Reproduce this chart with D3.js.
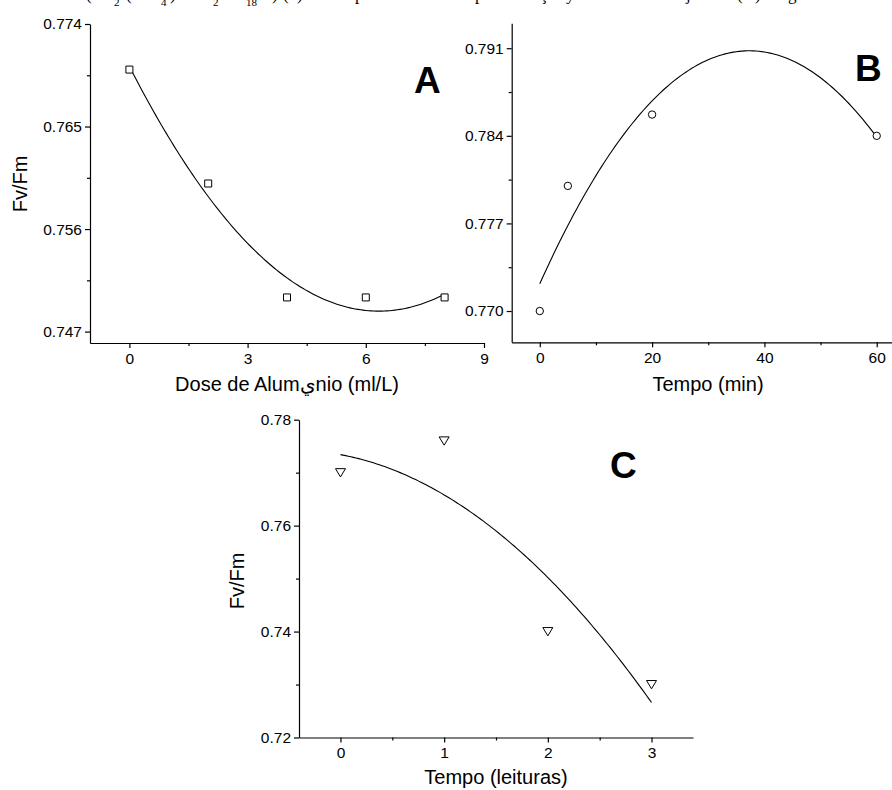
<!DOCTYPE html>
<html>
<head>
<meta charset="utf-8">
<script src="https://cdn.jsdelivr.net/npm/d3@7"></script>
<style>
  body { margin: 0; background: #fff; }
  svg { display: block; }
  text { font-family: "Liberation Sans", Arial, sans-serif; fill: #000; }
</style>
</head>
<body>
<div id="chart"></div>
<script>
// Panel A - Fv/Fm vs aluminium dose
const doseX = [0, 2, 4, 6, 8];
const doseFvFm = [0.770, 0.760, 0.750, 0.750, 0.750];
// Panel B - Fv/Fm vs time (min)
const minX = [0, 5, 20, 60];
const minFvFm = [0.770, 0.780, 0.7857, 0.784];
// Panel C - Fv/Fm vs time (readings)
const readX = [0, 1, 2, 3];
const readFvFm = [0.770, 0.776, 0.740, 0.730];

// tick values
const ticksAx = [0, 3, 6, 9], minorAx = [1.5, 4.5, 7.5];
const ticksAy = [0.747, 0.756, 0.765, 0.774], minorAy = [0.7515, 0.7605, 0.7695];
const ticksBx = [0, 20, 40, 60], minorBx = [10, 30, 50];
const ticksBy = [0.770, 0.777, 0.784, 0.791], minorBy = [0.7735, 0.7805, 0.7875];
const ticksCx = [0, 1, 2, 3], minorCx = [0.5, 1.5, 2.5];
const ticksCy = [0.72, 0.74, 0.76, 0.78], minorCy = [0.73, 0.75, 0.77];

const width = 892, height = 790;

const svg = d3.select("#chart")
  .append("svg")
  .attr("width", width)
  .attr("height", height);

// least squares quadratic y = a + b x + c x^2
function quadFit(xs, ys) {
  const S = k => d3.sum(xs, x => x ** k);
  const T = k => d3.sum(xs, (x, i) => x ** k * ys[i]);
  const m = [
    [S(0), S(1), S(2), T(0)],
    [S(1), S(2), S(3), T(1)],
    [S(2), S(3), S(4), T(2)]
  ];
  for (let i = 0; i < 3; i++) {
    for (let j = i + 1; j < 3; j++) {
      const f = m[j][i] / m[i][i];
      for (let k = i; k < 4; k++) m[j][k] -= f * m[i][k];
    }
  }
  const c = [0, 0, 0];
  for (let i = 2; i >= 0; i--) {
    let s = m[i][3];
    for (let k = i + 1; k < 3; k++) s -= m[i][k] * c[k];
    c[i] = s / m[i][i];
  }
  return x => c[0] + c[1] * x + c[2] * x * x;
}

function drawPanel(p) {
  const x = d3.scaleLinear().domain(p.xDom).range(p.xRange);
  const y = d3.scaleLinear().domain(p.yDom).range(p.yRange);
  const g = svg.append("g");

  // axes (major + minor)
  g.append("g")
    .attr("transform", `translate(0,${p.yRange[0]})`)
    .call(d3.axisBottom(x).tickValues(p.xMajor).tickSize(5).tickSizeOuter(0).tickPadding(4.5)
      .tickFormat(d3.format("d")));
  g.append("g")
    .attr("transform", `translate(0,${p.yRange[0]})`)
    .call(d3.axisBottom(x).tickValues(p.xMinor).tickSize(3).tickFormat(""))
    .call(a => a.select(".domain").remove());
  g.append("g")
    .attr("transform", `translate(${p.xRange[0]},0)`)
    .call(d3.axisLeft(y).tickValues(p.yMajor).tickSize(5).tickSizeOuter(0).tickPadding(3)
      .tickFormat(d3.format(p.yFmt)));
  g.append("g")
    .attr("transform", `translate(${p.xRange[0]},0)`)
    .call(d3.axisLeft(y).tickValues(p.yMinor).tickSize(3).tickFormat(""))
    .call(a => a.select(".domain").remove());

  g.selectAll(".domain, .tick line").attr("stroke", "#000").attr("stroke-width", 1.2);
  g.selectAll(".tick text").attr("font-size", "15.5px");

  // fitted curve
  const fit = quadFit(p.xs, p.ys);
  const [x0, x1] = d3.extent(p.xs);
  const samples = d3.range(0, 121).map(i => x0 + (x1 - x0) * i / 120);
  g.append("path")
    .datum(samples)
    .attr("fill", "none")
    .attr("stroke", "#000")
    .attr("stroke-width", 1.1)
    .attr("d", d3.line().x(d => x(d)).y(d => y(fit(d))));

  // markers
  const pts = p.xs.map((v, i) => [v, p.ys[i]]);
  const mk = g.selectAll(".pt").data(pts).join("path")
    .attr("class", "pt")
    .attr("transform", d => `translate(${x(d[0])},${y(d[1])})`)
    .attr("fill", "#fff")
    .attr("stroke", "#000")
    .attr("stroke-width", 1);
  if (p.marker === "square") mk.attr("d", "M-3.5,-3.5H3.5V3.5H-3.5Z");
  if (p.marker === "circle") mk.attr("d", d3.symbol(d3.symbolCircle, 43)());
  if (p.marker === "triangle") mk.attr("d", "M-5,-4H5L0,4.3Z");

  // panel letter
  g.append("text")
    .attr("x", p.letterPos[0]).attr("y", p.letterPos[1])
    .attr("font-size", "37px").attr("font-weight", "bold")
    .text(p.letter);

  // axis titles
  g.append("text")
    .attr("x", p.xTitlePos[0]).attr("y", p.xTitlePos[1])
    .attr("text-anchor", "middle").attr("font-size", "20px")
    .text(p.xTitle);
  if (p.yTitlePos) {
    g.append("text")
      .attr("transform", `translate(${p.yTitlePos[0]},${p.yTitlePos[1]}) rotate(-90)`)
      .attr("text-anchor", "middle").attr("font-size", "20px")
      .text("Fv/Fm");
  }
}

drawPanel({
  xs: doseX, ys: doseFvFm,
  xDom: [-1, 9], xRange: [90, 484],
  yDom: [0.746, 0.774], yRange: [343, 24],
  xMajor: ticksAx, xMinor: minorAx, yMajor: ticksAy, yMinor: minorAy, yFmt: ".3f",
  marker: "square", letter: "A", letterPos: [414, 93],
  xTitle: "Dose de Alum\u064Anio (ml/L)", xTitlePos: [287, 391],
  yTitlePos: [27, 184]
});

drawPanel({
  xs: minX, ys: minFvFm,
  xDom: [-5, 65], xRange: [511.7, 904.8],
  yDom: [0.7675, 0.793], yRange: [342.3, 23.2],
  xMajor: ticksBx, xMinor: minorBx, yMajor: ticksBy, yMinor: minorBy, yFmt: ".3f",
  marker: "circle", letter: "B", letterPos: [855, 81],
  xTitle: "Tempo (min)", xTitlePos: [708, 391],
  yTitlePos: null
});

drawPanel({
  xs: readX, ys: readFvFm,
  xDom: [-0.4, 3.4], xRange: [299, 693],
  yDom: [0.72, 0.78], yRange: [737.5, 419.7],
  xMajor: ticksCx, xMinor: minorCx, yMajor: ticksCy, yMinor: minorCy, yFmt: ".2f",
  marker: "triangle", letter: "C", letterPos: [610, 478],
  xTitle: "Tempo (leituras)", xTitlePos: [496, 784],
  yTitlePos: [244, 581]
});

// cropped caption line at the top edge (only lower parts visible, as in the source)
const capMain = [["(", 86], ["(", 126], [")", 170], [")", 272], ["(", 283], [")", 297], ["p", 355], ["p", 475], ["ç", 540], ["y", 566], ["j", 686], ["(", 737], [")", 755], ["g", 788]];
const capSub = [["2", 114], ["4", 161], ["2", 213], ["18", 246]];
svg.selectAll(".cap").data(capMain).join("text")
  .attr("class", "cap")
  .attr("x", d => d[1]).attr("y", 0)
  .attr("font-family", "Liberation Serif, serif").attr("font-size", "17px")
  .style("font-family", "Liberation Serif, serif")
  .text(d => d[0]);
svg.selectAll(".sub").data(capSub).join("text")
  .attr("class", "sub")
  .attr("x", d => d[1]).attr("y", 6)
  .attr("font-size", "11px")
  .style("font-family", "Liberation Serif, serif")
  .text(d => d[0]);
</script>
</body>
</html>
